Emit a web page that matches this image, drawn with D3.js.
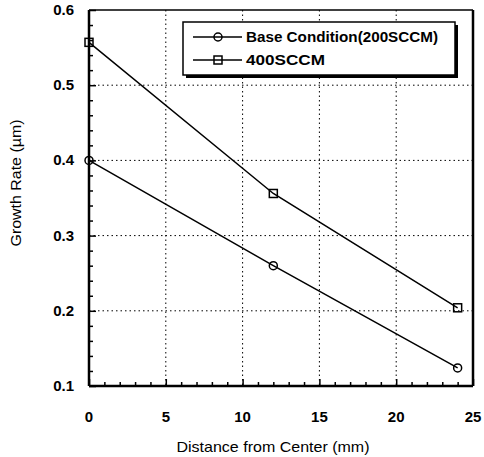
<!DOCTYPE html>
<html>
<head>
<meta charset="utf-8">
<script src="https://cdn.jsdelivr.net/npm/d3@7"></script>
<style>
body { margin: 0; background: #fff; }
text { font-family: "Liberation Sans", Arial, sans-serif; fill: #000; }
</style>
</head>
<body>
<div id="chart"></div>
<script>
// values
var distance = [0, 12, 24];
var baseRate = [0.40, 0.26, 0.124];
var highRate = [0.557, 0.356, 0.204];
var seriesNames = ["Base Condition(200SCCM)", "400SCCM"];
var xTicks = [0, 5, 10, 15, 20, 25];
var yTicks = [0.1, 0.2, 0.3, 0.4, 0.5, 0.6];

var width = 484, height = 457;
var padLeft = 89, padRight = 473, padTop = 10, padBottom = 386;

var svg = d3.select("#chart").append("svg")
    .attr("width", width)
    .attr("height", height);

var x = d3.scaleLinear().domain([0, 25]).range([padLeft, padRight]);
var y = d3.scaleLinear().domain([0.1, 0.6]).range([padBottom, padTop]);

// dotted grid
svg.append("g").selectAll("line")
    .data(xTicks.slice(1, -1)).enter().append("line")
    .attr("x1", d => x(d)).attr("x2", d => x(d))
    .attr("y1", padTop).attr("y2", padBottom)
    .attr("stroke", "#000").attr("stroke-width", 1)
    .attr("stroke-dasharray", "1.5,3");
svg.append("g").selectAll("line")
    .data(yTicks.slice(1, -1)).enter().append("line")
    .attr("y1", d => y(d)).attr("y2", d => y(d))
    .attr("x1", padLeft).attr("x2", padRight)
    .attr("stroke", "#000").attr("stroke-width", 1)
    .attr("stroke-dasharray", "1.5,3");

// axes, ticks pointing inward
var xAxis = d3.axisTop(x).tickValues(d3.range(0, 26, 1)).tickSize(4).tickFormat("");
var gx = svg.append("g").attr("transform", "translate(0," + padBottom + ")").call(xAxis);
gx.selectAll(".tick line").filter(d => d % 5 == 0).attr("y2", -7);
var yAxis = d3.axisRight(y).tickValues(d3.range(0.1, 0.601, 0.02)).tickSize(4).tickFormat("");
var gy = svg.append("g").attr("transform", "translate(" + padLeft + ",0)").call(yAxis);
gy.selectAll(".tick line").filter(d => Math.abs(d * 10 - Math.round(d * 10)) < 1e-6).attr("x2", 7);
svg.selectAll(".domain").remove();
svg.selectAll(".tick line").attr("stroke-width", 1.5);

// frame
svg.append("line").attr("x1", padLeft).attr("x2", padRight).attr("y1", padTop).attr("y2", padTop)
    .attr("stroke", "#000").attr("stroke-width", 1.5);
svg.append("line").attr("x1", padLeft).attr("x2", padRight).attr("y1", padBottom).attr("y2", padBottom)
    .attr("stroke", "#000").attr("stroke-width", 2.5);
svg.append("line").attr("x1", padLeft).attr("x2", padLeft).attr("y1", padTop).attr("y2", padBottom)
    .attr("stroke", "#000").attr("stroke-width", 2.5);
svg.append("line").attr("x1", padRight).attr("x2", padRight).attr("y1", padTop).attr("y2", padBottom)
    .attr("stroke", "#000").attr("stroke-width", 2.5);

// tick labels
svg.append("g").selectAll("text")
    .data(xTicks).enter().append("text")
    .attr("x", d => x(d)).attr("y", 422)
    .attr("text-anchor", "middle")
    .style("font-size", "15px").style("font-weight", "bold")
    .text(d => d);
svg.append("g").selectAll("text")
    .data(yTicks).enter().append("text")
    .attr("x", 74).attr("y", d => y(d) + 5)
    .attr("text-anchor", "end")
    .style("font-size", "15px").style("font-weight", "bold")
    .text(d => d3.format(".1f")(d));

// axis titles
svg.append("text").attr("x", 273).attr("y", 452)
    .attr("text-anchor", "middle").style("font-size", "15px")
    .attr("textLength", 193).attr("lengthAdjust", "spacingAndGlyphs")
    .text("Distance from Center (mm)");
svg.append("text").attr("transform", "translate(21,183) rotate(-90)")
    .attr("text-anchor", "middle").style("font-size", "15px")
    .attr("textLength", 127).attr("lengthAdjust", "spacingAndGlyphs")
    .text("Growth Rate (\u00b5m)");

// series
var line = d3.line().x(d => x(d[0])).y(d => y(d[1]));
var baseData = d3.zip(distance, baseRate);
var highData = d3.zip(distance, highRate);
[baseData, highData].forEach(function(data){
    svg.append("path").datum(data).attr("d", line)
        .attr("fill", "none").attr("stroke", "#000").attr("stroke-width", 1.5);
});
svg.append("g").selectAll("circle")
    .data(baseData).enter().append("circle")
    .attr("cx", d => x(d[0])).attr("cy", d => y(d[1])).attr("r", 4)
    .attr("fill", "none").attr("stroke", "#000").attr("stroke-width", 1.5);
svg.append("g").selectAll("rect")
    .data(highData).enter().append("rect")
    .attr("x", d => x(d[0]) - 4).attr("y", d => y(d[1]) - 4)
    .attr("width", 8).attr("height", 8)
    .attr("fill", "none").attr("stroke", "#000").attr("stroke-width", 1.5);

// legend box with shadow
svg.append("rect").attr("x", 186).attr("y", 25).attr("width", 272).attr("height", 53)
    .attr("fill", "#000");
svg.append("rect").attr("x", 183).attr("y", 22).attr("width", 272).attr("height", 53)
    .attr("fill", "#fff").attr("stroke", "#000").attr("stroke-width", 1.5);
var legendY = [37, 60];
var legendLen = [192, 79];
legendY.forEach(function(ly, i){
    svg.append("line").attr("x1", 193).attr("x2", 242).attr("y1", ly).attr("y2", ly)
        .attr("stroke", "#000").attr("stroke-width", 1.5);
    if (i == 0) {
        svg.append("circle").attr("cx", 218).attr("cy", ly).attr("r", 4)
            .attr("fill", "none").attr("stroke", "#000").attr("stroke-width", 1.5);
    } else {
        svg.append("rect").attr("x", 214).attr("y", ly - 4).attr("width", 8).attr("height", 8)
            .attr("fill", "none").attr("stroke", "#000").attr("stroke-width", 1.5);
    }
    svg.append("text").attr("x", 246).attr("y", ly + 5)
        .style("font-size", "15px").style("font-weight", "bold")
        .attr("textLength", legendLen[i]).attr("lengthAdjust", "spacingAndGlyphs")
        .text(seriesNames[i]);
});
</script>
</body>
</html>
